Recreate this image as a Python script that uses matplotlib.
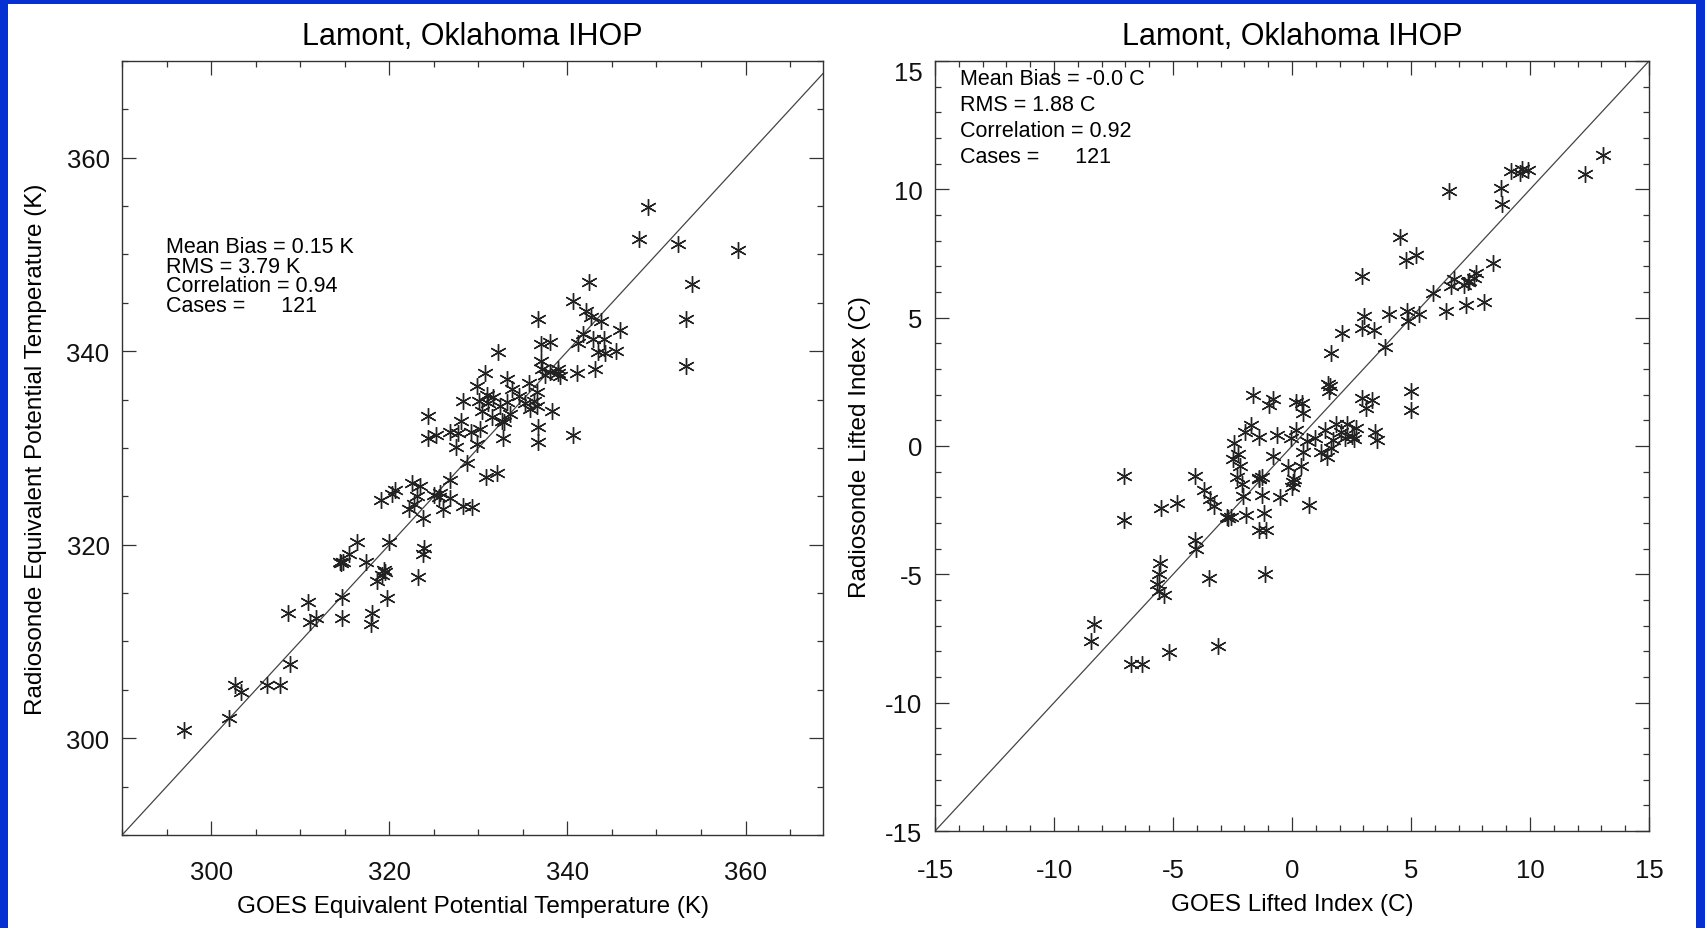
import matplotlib
matplotlib.use("Agg")
import matplotlib.pyplot as plt
import matplotlib.transforms as mtransforms
from matplotlib.patches import Rectangle
from matplotlib.ticker import MultipleLocator

plt.rcParams['font.family'] = ['Liberation Sans', 'DejaVu Sans']
plt.rcParams['axes.unicode_minus'] = False

# GOES vs radiosonde equivalent potential temperature (K)
theta_goes = [297.0, 302.0, 302.7, 303.4, 306.3, 307.7, 308.9, 308.6, 310.9, 311.1,
              311.8, 314.5, 314.8, 314.7, 314.7, 315.5, 316.4, 317.4, 317.9, 318.1,
              318.6, 319.2, 319.4, 319.8, 320.0, 319.1, 320.3, 320.6, 323.2, 323.9,
              323.8, 322.6, 323.5, 322.2, 322.8, 323.8, 324.4, 324.4, 325.3, 325.0,
              325.7, 326.0, 326.8, 326.8, 326.8, 327.7, 328.0, 327.5, 328.3, 328.3,
              329.3, 328.7, 329.2, 329.8, 330.1, 329.9, 330.2, 330.4, 330.7, 330.9,
              331.1, 331.5, 331.7, 332.2, 332.1, 332.7, 332.4, 333.2, 332.8, 333.2,
              333.8, 334.6, 335.2, 335.7, 335.8, 336.2, 336.7, 336.6, 336.6, 336.7,
              336.7, 337.0, 337.0, 337.2, 338.0, 338.1, 338.3, 339.0, 338.9, 340.6,
              340.6, 341.2, 341.1, 341.8, 342.4, 342.1, 342.6, 342.9, 343.1, 343.4,
              343.8, 344.1, 344.2, 345.5, 345.9, 348.0, 349.1, 352.4, 353.3, 353.3,
              354.0, 359.2, 332.9, 319.5, 314.6, 323.1, 325.6, 331.0, 337.5, 333.6,
              339.2]
theta_raob = [300.9, 302.1, 305.5, 304.8, 305.5, 305.5, 307.7, 312.9, 314.1, 312.0,
              312.4, 318.2, 318.2, 314.6, 312.4, 319.0, 320.3, 318.2, 311.8, 312.9,
              316.3, 316.9, 317.4, 314.5, 320.3, 324.6, 325.2, 325.7, 316.7, 319.7,
              319.0, 326.4, 326.1, 323.7, 324.2, 322.8, 333.3, 331.0, 331.3, 325.1,
              325.3, 323.7, 324.8, 331.7, 326.7, 331.5, 332.8, 330.1, 334.9, 324.0,
              323.9, 328.4, 331.7, 330.4, 334.9, 336.4, 332.0, 333.8, 337.7, 327.0,
              334.7, 333.2, 335.3, 339.9, 327.4, 332.8, 334.3, 337.1, 331.0, 334.8,
              336.1, 335.4, 334.7, 336.7, 334.0, 334.9, 343.3, 335.8, 334.3, 332.2,
              330.6, 340.7, 339.0, 338.2, 341.0, 337.9, 333.8, 337.7, 338.2, 345.2,
              331.3, 340.8, 337.8, 341.8, 347.2, 344.2, 343.5, 341.3, 338.2, 339.9,
              343.1, 341.3, 339.8, 340.0, 342.2, 351.6, 354.9, 351.1, 343.3, 338.5,
              346.9, 350.5, 332.7, 317.2, 318.1, 325.0, 324.9, 335.5, 337.5, 333.5,
              337.4]

# GOES vs radiosonde lifted index (C)
li_goes = [-8.46, -8.32, -6.77, -6.31, -5.17, -3.11, -7.04, -7.04, -5.53, -5.67,
           -5.58, -5.40, -5.49, -4.85, -4.07, -4.07, -4.02, -3.48, -3.70, -3.43,
           -3.29, -2.74, -2.56, -2.42, -2.29, -2.19, -2.33, -2.10, -2.06, -1.92,
           -1.97, -1.74, -1.65, -1.37, -1.37, -1.28, -1.37, -1.28, -1.14, -1.19,
           -1.10, -0.96, -0.78, -0.82, -0.64, -0.50, -0.05, -0.18, 0.05, 0.10,
           0.18, 0.41, 0.18, 0.46, 0.37, 0.46, 0.64, 0.73, 0.96, 1.23,
           1.37, 1.51, 1.55, 1.65, 1.60, 1.46, 1.74, 1.83, 1.65, 2.06,
           2.24, 2.29, 2.10, 2.70, 2.61, 2.93, 2.93, 2.93, 3.02, 3.11,
           3.38, 3.43, 3.47, 3.57, 3.89, 4.07, 4.53, 4.80, 4.85, 4.89,
           4.98, 4.98, 5.21, 5.35, 5.94, 6.58, 6.45, 6.68, 6.81, 7.22,
           7.32, 7.45, 7.64, 7.73, 8.05, 8.46, 8.78, 8.82, 9.19, 9.56,
           9.65, 9.92, 12.30, 13.08, -2.50, -1.40, 0.00, -2.70, 7.40, 2.50,
           -5.60]
li_raob = [-7.60, -6.93, -8.48, -8.48, -8.02, -7.81, -1.16, -2.88, -4.57, -5.37,
           -5.66, -5.79, -2.42, -2.21, -1.16, -3.68, -4.02, -5.16, -1.71, -2.08,
           -2.34, -2.76, -2.76, 0.10, -0.32, -0.78, -1.20, -1.49, -1.96, -2.67,
           0.53, 0.82, 2.00, 0.36, -1.24, -1.20, -3.26, -1.92, -4.99, -2.63,
           -3.26, 1.58, 1.83, -0.40, 0.44, -2.00, 0.32, -0.82, -1.41, -1.30,
           1.71, 1.66, 0.61, -0.23, -0.78, 1.28, 0.19, -2.29, 0.32, -0.23,
           0.61, 2.42, 2.13, -0.06, 2.34, -0.44, 0.23, 0.86, 3.64, 0.53,
           0.32, 0.86, 4.40, 0.69, 0.27, 4.61, 6.63, 1.87, 5.07, 1.49,
           1.79, 4.53, 0.53, 0.23, 3.85, 5.16, 8.15, 7.26, 5.24, 4.86,
           2.13, 1.41, 7.43, 5.16, 5.96, 9.92, 5.24, 6.25, 6.51, 6.29,
           5.49, 6.42, 6.55, 6.72, 5.62, 7.14, 10.04, 9.41, 10.72, 10.63,
           10.80, 10.76, 10.59, 11.34, -0.50, -1.30, -1.60, -2.80, 6.40, 0.40,
           -5.00]

theta_stats = ["Mean Bias = 0.15 K", "RMS = 3.79 K", "Correlation = 0.94", "Cases =      121"]
li_stats = ["Mean Bias = -0.0 C", "RMS = 1.88 C", "Correlation = 0.92", "Cases =      121"]

title = "Lamont, Oklahoma IHOP"

fig = plt.figure(figsize=(17.05, 9.29), dpi=100)
fig.patch.set_facecolor('#0630d2')
fig.add_artist(Rectangle((8 / 1705, 0), 1688 / 1705, 1 - 5 / 929,
                         transform=fig.transFigure, facecolor='white',
                         edgecolor='none', zorder=-1))

ax1 = fig.add_axes([0.0716, 0.1001, 0.4111, 0.8332])
ax2 = fig.add_axes([0.5484, 0.1044, 0.4188, 0.8289])

marker = (6, 2, 0)


def style_axes(ax, minor, xpad):
    for sp in ax.spines.values():
        sp.set_color('#333333')
        sp.set_linewidth(1.0)
    ax.xaxis.set_minor_locator(MultipleLocator(minor))
    ax.yaxis.set_minor_locator(MultipleLocator(minor))
    ax.tick_params(which='both', direction='in', top=True, right=True,
                   color='#333333', width=0.9, labelsize=18.5, labelcolor='#111111')
    ax.tick_params(which='major', length=10)
    ax.tick_params(which='minor', length=4.5)
    ax.tick_params(axis='x', pad=xpad)
    ax.tick_params(axis='y', pad=9)


# left panel: equivalent potential temperature
ax1.plot([290, 370], [290, 370], color='#444444', lw=0.9)
ax1.plot(theta_goes, theta_raob, linestyle='none', marker=marker, markersize=12,
         markeredgewidth=1.0, color='#222222')
ax1.set_xlim(290, 368.7)
ax1.set_ylim(290, 370)
ax1.set_xticks([300, 320, 340, 360])
ax1.set_yticks([300, 320, 340, 360])
style_axes(ax1, 5, 18)
ax1.set_xlabel("GOES Equivalent Potential Temperature (K)", fontsize=17.5, labelpad=8)
ax1.set_ylabel("Radiosonde Equivalent Potential Temperature (K)", fontsize=17.5, labelpad=14)
ax1.set_title(title, fontsize=22, pad=12)
for i, s in enumerate(theta_stats):
    ax1.text(0.063, 0.760 - i * 0.0252, s, transform=ax1.transAxes,
             fontsize=15.5, va='center', ha='left')

# right panel: lifted index
ax2.plot([-15, 15], [-15, 15], color='#444444', lw=0.9)
ax2.plot(li_goes, li_raob, linestyle='none', marker=marker, markersize=12,
         markeredgewidth=1.0, color='#222222')
ax2.set_xlim(-15, 15)
ax2.set_ylim(-15, 15)
ax2.set_xticks([-15, -10, -5, 0, 5, 10, 15])
ax2.set_yticks([-15, -10, -5, 0, 5, 10, 15])
style_axes(ax2, 1, 19.5)
ax2.set_xlabel("GOES Lifted Index (C)", fontsize=17.5, labelpad=8)
ax2.set_ylabel("Radiosonde Lifted Index (C)", fontsize=17.5, labelpad=10)
ax2.set_title(title, fontsize=22, pad=12)
for i, s in enumerate(li_stats):
    ax2.text(0.035, 0.9774 - i * 0.0339, s, transform=ax2.transAxes,
             fontsize=15.5, va='center', ha='left')

# the top "15" label sits a little below its tick in the original
top_label = ax2.get_yticklabels()[-1]
top_label.set_transform(top_label.get_transform() +
                        mtransforms.ScaledTranslation(0, -10 / 100, fig.dpi_scale_trans))

fig.savefig("out.png", dpi=100, facecolor=fig.get_facecolor())
